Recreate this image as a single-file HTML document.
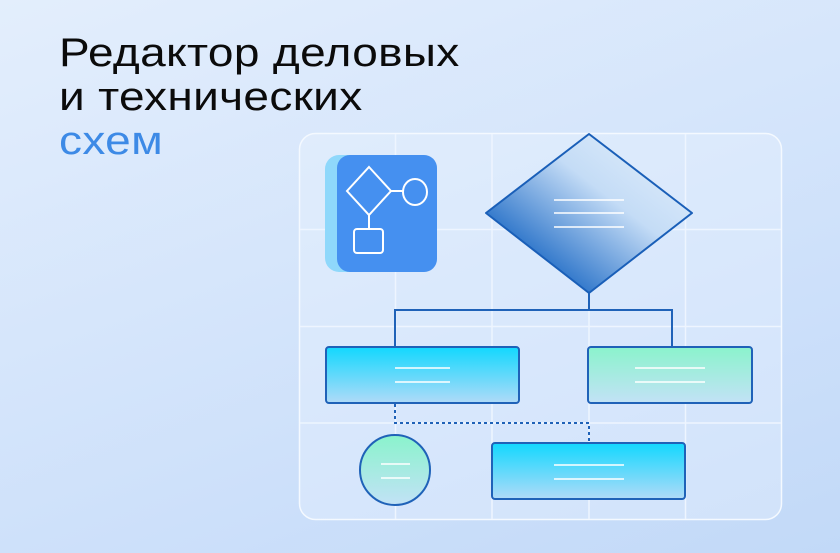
<!DOCTYPE html>
<html><head><meta charset="utf-8"><style>
body{margin:0;width:840px;height:553px;overflow:hidden;background:linear-gradient(160deg,#e3eefc 0%,#d3e4fb 50%,#c2d9f8 100%);font-family:"Liberation Sans",sans-serif;position:relative}
.t{position:absolute;left:59px;top:31px;font-size:40px;line-height:44px;color:#0b0b0b;letter-spacing:0.3px;transform:scaleX(1.15);transform-origin:0 0;white-space:nowrap}
.t span{color:#3d8ae6}
svg{position:absolute;left:0;top:0}
</style></head><body>
<div class="t">Редактор деловых<br>и технических<br><span>схем</span></div>
<svg width="840" height="553">
<defs>
<linearGradient id="dg" x1="0" y1="1" x2="1" y2="0"><stop offset="0.15" stop-color="#0d5fc0"/><stop offset="0.6" stop-color="#c4dcf6"/><stop offset="1" stop-color="#e8f2fd"/></linearGradient>
<linearGradient id="cy" x1="0" y1="0" x2="0" y2="1"><stop offset="0" stop-color="#12d8fe"/><stop offset="1" stop-color="#b0daf8"/></linearGradient>
<linearGradient id="gr" x1="0" y1="0" x2="0" y2="1"><stop offset="0" stop-color="#8af3cc"/><stop offset="1" stop-color="#c2e2f6"/></linearGradient>
</defs>
<rect x="299.5" y="133.5" width="482" height="386" rx="16" fill="rgba(235,244,255,0.35)" stroke="#f4f9ff" stroke-width="1.5"/>
<g stroke="#eef5ff" stroke-width="1.5">
<line x1="395.5" y1="134" x2="395.5" y2="519"/><line x1="492" y1="134" x2="492" y2="519"/><line x1="589" y1="134" x2="589" y2="519"/><line x1="685.5" y1="134" x2="685.5" y2="519"/>
<line x1="300" y1="229.5" x2="781" y2="229.5"/><line x1="300" y1="326.5" x2="781" y2="326.5"/><line x1="300" y1="423" x2="781" y2="423"/>
</g>
<rect x="325" y="155" width="112" height="117" rx="14" fill="#8fd8fb"/>
<rect x="337" y="155" width="100" height="117" rx="13" fill="#4590f0"/>
<g fill="none" stroke="#fff" stroke-width="2">
<polygon points="369,167 391,191 369,215 347,191"/>
<ellipse cx="415" cy="192" rx="12" ry="13"/>
<line x1="391" y1="191" x2="403" y2="191"/><line x1="369" y1="215" x2="369" y2="229"/>
<rect x="354" y="229" width="29" height="24" rx="3"/>
</g>
<polygon points="589,134 692,213 589,293 486,213" fill="url(#dg)" stroke="#1a5fb8" stroke-width="2" stroke-linejoin="round"/>
<g stroke="#1f62b8" stroke-width="2" fill="none">
<polyline points="589,293 589,310"/><polyline points="395,348 395,310 672,310 672,348"/>
<polyline points="395,404 395,423 589,423 589,443" stroke-dasharray="3,3"/>
</g>
<rect x="326" y="347" width="193" height="56" rx="3" fill="url(#cy)" stroke="#1f62b8" stroke-width="2"/>
<rect x="588" y="347" width="164" height="56" rx="3" fill="url(#gr)" stroke="#1f62b8" stroke-width="2"/>
<circle cx="395" cy="470" r="35" fill="url(#gr)" stroke="#1f62b8" stroke-width="2"/>
<rect x="492" y="443" width="193" height="56" rx="3" fill="url(#cy)" stroke="#1f62b8" stroke-width="2"/>
<g stroke="#fff" stroke-width="1.5">
<line x1="554" y1="200" x2="624" y2="200"/><line x1="554" y1="213" x2="624" y2="213"/><line x1="554" y1="227" x2="624" y2="227"/>
<line x1="395" y1="368" x2="450" y2="368"/><line x1="395" y1="382" x2="450" y2="382"/>
<line x1="635" y1="368" x2="705" y2="368"/><line x1="635" y1="382" x2="705" y2="382"/>
<line x1="381" y1="464" x2="410" y2="464"/><line x1="381" y1="478" x2="410" y2="478"/>
<line x1="554" y1="465" x2="624" y2="465"/><line x1="554" y1="479" x2="624" y2="479"/>
</g>
</svg>
</body></html>
